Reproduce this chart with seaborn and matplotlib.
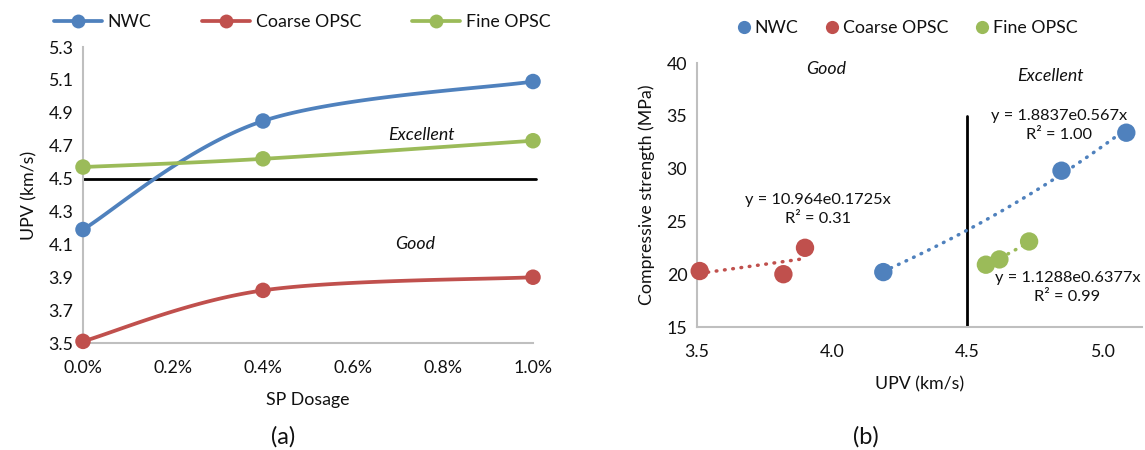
import numpy as np
import pandas as pd
import matplotlib
matplotlib.use("Agg")
import matplotlib.pyplot as plt
from matplotlib.lines import Line2D
from matplotlib.ticker import FormatStrFormatter, PercentFormatter
import seaborn as sns

# ---- data -------------------------------------------------------------
mixes = ["NWC", "Coarse OPSC", "Fine OPSC"]
sp_dosage = [0.0, 0.4, 1.0]                      # % superplasticizer
upv_nwc = [4.19, 4.85, 5.09]                     # km/s
upv_coarse = [3.51, 3.82, 3.90]
upv_fine = [4.57, 4.62, 4.73]
strength_nwc = [20.2, 29.8, 33.4]                # MPa
strength_coarse = [20.3, 20.0, 22.5]
strength_fine = [20.9, 21.4, 23.1]

# exponential trendlines y = a * exp(b * x)
trend_a = [1.8837, 10.964, 1.1288]
trend_b = [0.567, 0.1725, 0.6377]
trend_a_txt = ["1.8837", "10.964", "1.1288"]
trend_b_txt = ["0.567", "0.1725", "0.6377"]
trend_r2 = ["1.00", "0.31", "0.99"]

upv_limit = 4.5
colors = ["#4F81BD", "#C0504D", "#9BBB59"]

upv_sets = [upv_nwc, upv_coarse, upv_fine]
strength_sets = [strength_nwc, strength_coarse, strength_fine]

df_a = pd.DataFrame({
    "dosage": sp_dosage * 3,
    "upv": upv_nwc + upv_coarse + upv_fine,
    "mix": [m for m in mixes for _ in sp_dosage],
})
df_b = pd.DataFrame({
    "upv": upv_nwc + upv_coarse + upv_fine,
    "strength": strength_nwc + strength_coarse + strength_fine,
    "mix": [m for m in mixes for _ in sp_dosage],
})

# ---- style ------------------------------------------------------------
sns.set_theme(style="white")
plt.rcParams["font.family"] = ["Lato", "DejaVu Sans"]
plt.rcParams["text.color"] = "#111111"
plt.rcParams["axes.labelcolor"] = "#111111"
plt.rcParams["xtick.color"] = "#111111"
plt.rcParams["ytick.color"] = "#111111"
FS = 12.8
EQ_FS = 11.8
AXIS_GREY = "#BFBFBF"

fig = plt.figure(figsize=(11.45, 4.5), dpi=100)
ax1 = fig.add_axes([83 / 1145, 1 - 343 / 450, 450 / 1145, 296 / 450])
ax2 = fig.add_axes([697 / 1145, 1 - 327 / 450, 445.5 / 1145, 264 / 450])


def smooth_path(x, y, sx, sy, n=60):
    """Bezier smoothing through the points (Excel style), done in pixel scale."""
    px = np.asarray(x, float) * sx
    py = np.asarray(y, float) * sy
    P = np.column_stack([px, py])
    Pext = np.vstack([P[0], P, P[-1]])
    out = []
    t = np.linspace(0, 1, n)[:, None]
    for i in range(len(P) - 1):
        p0, p3 = P[i], P[i + 1]
        c1 = p0 + (Pext[i + 2] - Pext[i]) / 6.0
        c2 = p3 - (Pext[i + 3] - Pext[i + 1]) / 6.0
        seg = ((1 - t) ** 3) * p0 + 3 * ((1 - t) ** 2) * t * c1 + 3 * (1 - t) * t ** 2 * c2 + t ** 3 * p3
        out.append(seg if i == 0 else seg[1:])
    out = np.vstack(out)
    return out[:, 0] / sx, out[:, 1] / sy


# ---- (a) UPV vs SP dosage --------------------------------------------
ax1.set_xlim(0, 1.0)
ax1.set_ylim(3.5, 5.3)
for vals, c in zip(upv_sets, colors):
    xs, ys = smooth_path(sp_dosage, vals, 450.0, 164.4)
    ax1.plot(xs, ys, color=c, lw=2.7, solid_capstyle="round", clip_on=False, zorder=3)
sns.scatterplot(data=df_a, x="dosage", y="upv", hue="mix", palette=colors,
                s=125, edgecolor="none", ax=ax1, legend=False, zorder=4, clip_on=False)
ax1.plot([0, 1.0066], [upv_limit, upv_limit], color="black", lw=2.0, zorder=2, clip_on=False)

ax1.set_xticks(np.arange(0, 1.01, 0.2))
ax1.set_yticks(np.arange(3.5, 5.31, 0.2))
ax1.xaxis.set_major_formatter(PercentFormatter(xmax=100, decimals=1))
ax1.yaxis.set_major_formatter(FormatStrFormatter("%.1f"))
ax1.tick_params(axis="both", length=0, labelsize=FS, pad=7)
ax1.tick_params(axis="x", pad=12)
ax1.set_xlabel("SP Dosage", fontsize=FS, labelpad=12)
ax1.set_ylabel("UPV (km/s)", fontsize=FS, labelpad=8)
for side in ["top", "right"]:
    ax1.spines[side].set_visible(False)
for side in ["left", "bottom"]:
    ax1.spines[side].set_color(AXIS_GREY)
    ax1.spines[side].set_linewidth(1.5)
ax1.text(0.753, 4.765, "Excellent", style="italic", fontsize=FS, ha="center", va="center")
ax1.text(0.738, 4.10, "Good", style="italic", fontsize=FS, ha="center", va="center")

handles_a = [Line2D([0], [0], color=c, lw=2.7, marker="o", ms=10, markeredgecolor="none") for c in colors]
fig.legend(handles_a, mixes, loc="center", bbox_to_anchor=(302 / 1145, 1 - 22 / 450),
           ncol=3, frameon=False, fontsize=FS, handlelength=2.7, columnspacing=2.9,
           handletextpad=0.3, borderaxespad=0)

# ---- (b) compressive strength vs UPV ---------------------------------
ax2.set_xlim(3.5, 5.15)
ax2.set_ylim(15, 40)
for vals, a, b, c in zip(upv_sets, trend_a, trend_b, colors):
    xs = np.linspace(min(vals), max(vals), 100)
    ax2.plot(xs, a * np.exp(b * xs), color=c, lw=2.5, linestyle=(0, (0.2, 2.2)),
             dash_capstyle="round", zorder=3, clip_on=False)
sns.scatterplot(data=df_b, x="upv", y="strength", hue="mix", palette=colors,
                s=175, edgecolor="none", ax=ax2, legend=False, zorder=4, clip_on=False)
ax2.plot([upv_limit, upv_limit], [15, 35], color="black", lw=2.0, zorder=2)

ax2.set_xticks([3.5, 4.0, 4.5, 5.0])
ax2.set_yticks(np.arange(15, 41, 5))
ax2.xaxis.set_major_formatter(FormatStrFormatter("%.1f"))
ax2.tick_params(axis="both", length=0, labelsize=FS, pad=7)
ax2.tick_params(axis="x", pad=12)
ax2.set_xlabel("UPV (km/s)", fontsize=FS, labelpad=12)
ax2.set_ylabel("Compressive strength (MPa)", fontsize=FS, labelpad=8)
for side in ["top", "right"]:
    ax2.spines[side].set_visible(False)
for side in ["left", "bottom"]:
    ax2.spines[side].set_color(AXIS_GREY)
    ax2.spines[side].set_linewidth(1.5)

ax2.text(3.98, 39.4, "Good", style="italic", fontsize=FS, ha="center", va="center")
ax2.text(4.81, 38.8, "Excellent", style="italic", fontsize=FS, ha="center", va="center")

eq_pos = [(4.84, 34.1), (3.948, 26.1), (4.872, 18.75)]
for a_t, b_t, r2, (ex, ey) in zip(trend_a_txt, trend_b_txt, trend_r2, eq_pos):
    ax2.text(ex, ey, f"y = {a_t}e{b_t}x\nR\u00b2 = {r2}", fontsize=EQ_FS, ha="center",
             va="center", linespacing=1.45, zorder=5)

handles_b = [Line2D([0], [0], color=c, lw=0, marker="o", ms=9.5, markeredgecolor="none") for c in colors]
fig.legend(handles_b, mixes, loc="center", bbox_to_anchor=(908 / 1145, 1 - 28 / 450),
           ncol=3, frameon=False, fontsize=FS, handlelength=0.6, columnspacing=1.6,
           handletextpad=0.3, borderaxespad=0)

# ---- panel captions ---------------------------------------------------
fig.text(283 / 1145, 1 - 437 / 450, "(a)", fontsize=17, ha="center", va="center")
fig.text(866 / 1145, 1 - 437 / 450, "(b)", fontsize=17, ha="center", va="center")

fig.savefig("out.png", dpi=100)
